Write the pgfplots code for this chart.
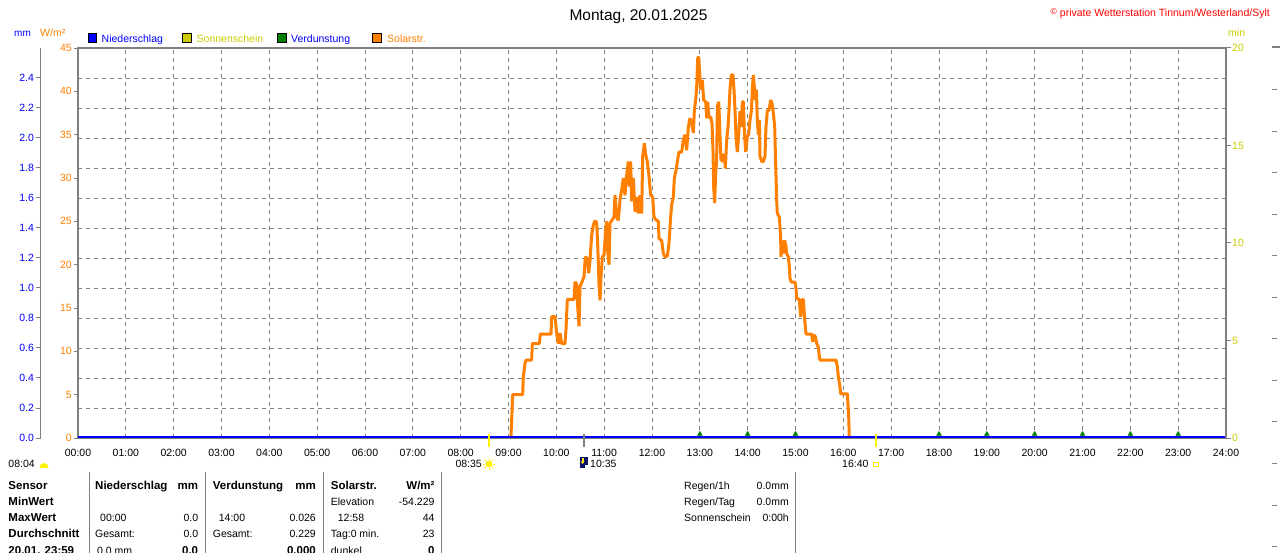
\documentclass[border=0pt]{standalone}
\usepackage{fontspec}
\setmainfont{Liberation Sans}
\usepackage{pgfplots}
\pgfplotsset{compat=1.18}
\definecolor{cblue}{RGB}{0,0,255}
\definecolor{corange}{RGB}{255,128,0}
\definecolor{cyellow}{RGB}{204,204,0}
\definecolor{cgreen}{RGB}{0,128,0}
\definecolor{cgray}{RGB}{128,128,128}
\definecolor{cred}{RGB}{255,0,0}
\definecolor{cnavy}{RGB}{10,20,110}
\definecolor{csun}{RGB}{255,240,0}
\newcommand\fr{\fontsize{10.5}{12}\selectfont}
\newcommand\fb{\fontsize{11.5}{13}\selectfont\bfseries}
\newcommand\Lt[3]{\node[anchor=base west,inner sep=0pt] at (#1,#2) {#3};}
\newcommand\Rt[3]{\node[anchor=base east,inner sep=0pt] at (#1,#2) {#3};}
\pgfplotsset{
  /pgf/number format/assume math mode=true,
  base/.style={at={(78pt,114pt)}, anchor=south west, scale only axis,
    width=1148pt, height=390pt, xmin=0, xmax=24},
}
\begin{document}
\begin{tikzpicture}
\useasboundingbox (0pt,0pt) rectangle (1280pt,552pt);
\fill[white] (0pt,0pt) rectangle (1280pt,552pt);

% grid axis
\begin{axis}[base, ymin=0, ymax=2.6,
  xtick={1,2,...,23}, ytick={0.2,0.4,0.6,0.8,1.0,1.2,1.4,1.6,1.8,2.0,2.2,2.4},
  xticklabels={}, yticklabels={}, major tick length=0pt,
  axis line style={draw=none},
  xmajorgrids, ymajorgrids,
  grid style={cgray, line width=0.8pt, dash pattern=on 4pt off 4pt}]
\end{axis}

% main axis (W/m2)
\begin{axis}[base, ymin=0, ymax=45,
  xtick={0,1,...,24},
  xticklabels={00:00,01:00,02:00,03:00,04:00,05:00,06:00,07:00,08:00,09:00,10:00,11:00,12:00,13:00,14:00,15:00,16:00,17:00,18:00,19:00,20:00,21:00,22:00,23:00,24:00},
  xtick style={draw=none},
  xticklabel style={font=\fr, anchor=base, inner sep=0pt, yshift=-14.7pt},
  ytick={0,5,...,45}, ytick pos=left,
  tick align=outside, major tick length=4pt,
  ytick style={cgray, line width=1pt},
  yticklabel style={font=\fr, text=corange, inner sep=0pt, xshift=-2pt},
  axis line style={cgray, line width=2pt}]
\addplot[corange, line width=3pt, line join=bevel] coordinates {
(9.05,0) (9.073,3.0) (9.087,5.0) (9.296,5.0) (9.31,7.1) (9.345,8.6) (9.366,9.0) (9.484,9.0) (9.498,10.9) (9.645,10.9) (9.666,12.0) (9.889,12.0) (9.902,14.0) (9.972,14.0) (10.007,12.1) (10.042,10.9) (10.077,12.1) (10.111,10.9) (10.181,10.9) (10.202,12.5) (10.230,16.0) (10.369,16.0) (10.390,18.0) (10.425,17.8) (10.446,15.2) (10.474,12.9) (10.495,17.5) (10.537,18.0) (10.578,18.6) (10.606,20.9) (10.648,20.7) (10.676,19.0) (10.704,20.5) (10.739,23.4) (10.774,24.6) (10.815,25.1) (10.843,24.8) (10.864,22.5) (10.892,17.8) (10.913,15.9) (10.934,18.6) (10.962,20.9) (10.997,21.1) (11.031,24.0) (11.052,25.0) (11.073,21.7) (11.101,20.0) (11.122,24.8) (11.171,25.2) (11.206,25.5) (11.226,28.0) (11.261,25.5) (11.296,25.1) (11.331,27.5) (11.366,28.6) (11.401,30.0) (11.436,28.0) (11.470,30.3) (11.505,31.9) (11.526,29.0) (11.554,31.9) (11.575,27.3) (11.610,30.0) (11.645,26.1) (11.679,27.8) (11.714,25.9) (11.749,28.0) (11.784,25.9) (11.805,32.5) (11.840,34.0) (11.868,32.7) (11.902,31.9) (11.937,30.2) (11.972,28.0) (12.014,27.8) (12.042,25.5) (12.077,25.2) (12.132,25.0) (12.146,23.0) (12.202,22.8) (12.237,21.3) (12.272,20.9) (12.321,21.0) (12.355,22.5) (12.390,25.5) (12.411,26.9) (12.446,27.8) (12.467,30.0) (12.502,30.9) (12.530,31.9) (12.564,33.0) (12.620,33.0) (12.655,34.4) (12.690,35.0) (12.725,33.2) (12.760,35.9) (12.794,36.9) (12.829,36.3) (12.864,35.2) (12.885,37.8) (12.913,39.0) (12.934,40.5) (12.955,43.8) (12.976,44.0) (12.997,42.1) (13.018,40.2) (13.052,41.3) (13.080,39.0) (13.122,38.8) (13.143,36.9) (13.164,38.8) (13.192,36.9) (13.226,37.1) (13.254,36.3) (13.275,33.2) (13.289,29.0) (13.310,27.1) (13.331,30.5) (13.352,32.1) (13.366,38.2) (13.394,38.8) (13.408,37.1) (13.422,34.8) (13.443,32.1) (13.477,31.9) (13.512,32.8) (13.533,31.1) (13.561,34.4) (13.589,35.9) (13.610,37.8) (13.631,40.3) (13.659,41.9) (13.693,41.9) (13.714,40.2) (13.735,37.8) (13.756,34.8) (13.784,33.0) (13.812,35.0) (13.840,37.7) (13.868,35.9) (13.889,38.8) (13.909,38.8) (13.930,35.5) (13.958,33.0) (13.993,34.8) (14.021,35.0) (14.049,36.7) (14.077,37.7) (14.098,40.2) (14.118,41.9) (14.139,40.5) (14.160,39.0) (14.181,40.2) (14.202,36.7) (14.223,35.0) (14.244,36.7) (14.258,32.5) (14.293,31.9) (14.328,31.9) (14.362,32.5) (14.383,35.9) (14.411,37.8) (14.446,37.8) (14.481,39.0) (14.509,38.6) (14.537,37.5) (14.565,35.9) (14.585,31.7) (14.606,27.5) (14.620,25.9) (14.662,25.5) (14.676,24.4) (14.690,22.8) (14.697,20.9) (14.725,22.8) (14.746,21.3) (14.774,22.8) (14.801,22.1) (14.815,21.3) (14.850,20.9) (14.871,19.8) (14.885,18.4) (14.913,18.0) (14.990,18.0) (15.010,17.3) (15.024,16.1) (15.080,16.0) (15.108,14.0) (15.129,15.9) (15.164,16.0) (15.185,14.2) (15.206,12.8) (15.220,12.0) (15.338,12.0) (15.359,11.1) (15.387,11.9) (15.415,11.7) (15.443,10.9) (15.477,10.5) (15.498,9.4) (15.512,9.0) (15.847,9.0) (15.875,8.2) (15.895,7.1) (15.930,5.9) (15.944,5.1) (16.084,5.1) (16.112,2.5) (16.125,0)
};
\addplot[cblue, line width=1.6pt] coordinates {(0,0.1) (24,0.1)};
\addplot[only marks, mark=triangle*, mark size=2.8pt, color=cgreen] coordinates {
(13,0.45) (14,0.45) (15,0.45) (18,0.45) (19,0.45) (20,0.45) (21,0.45) (22,0.45) (23,0.45)};
\end{axis}

% right axis (min)
\begin{axis}[base, ymin=0, ymax=20, axis y line*=right, axis x line=none,
  ytick={0,5,10,15,20}, tick align=outside, major tick length=5pt,
  ytick style={cgray, line width=1pt},
  yticklabel style={font=\fr, text=cyellow, inner sep=0pt, xshift=1pt},
  axis line style={cgray, line width=2pt, -}]
\end{axis}

% left mm axis
\begin{axis}[at={(40.7pt,114pt)}, anchor=south west, scale only axis,
  width=10pt, height=390pt, xmin=0, xmax=1, ymin=0, ymax=2.6,
  axis y line*=left, axis x line=none,
  ytick={0,0.2,0.4,0.6,0.8,1.0,1.2,1.4,1.6,1.8,2.0,2.2,2.4},
  tick align=outside, major tick length=5pt,
  ytick style={cgray, line width=1pt},
  yticklabel style={font=\fr, text=cblue, inner sep=0pt, xshift=-1.5pt,
    /pgf/number format/.cd, fixed, fixed zerofill, precision=1},
  axis line style={cgray, line width=1.2pt, -}]
\end{axis}

\begin{scope}[x=1pt, y=-1pt, shift={(0pt,552pt)}]
% title and header
\node[anchor=base, inner sep=0pt] at (638.5,20.5) {\fontsize{15.5}{18}\selectfont Montag, 20.01.2025};
\node[anchor=base east, inner sep=0pt, text=cred] at (1270,16.5) {\fr\raisebox{1.5pt}{\fontsize{8.5}{9}\selectfont\textcopyright}\ private Wetterstation Tinnum/Westerland/Sylt};
\node[anchor=base west, inner sep=0pt, text=cblue] at (14,37) {\fontsize{10}{12}\selectfont mm};
\node[anchor=base west, inner sep=0pt, text=corange] at (40,37) {\fr W/m²};
\node[anchor=base west, inner sep=0pt, text=cyellow] at (1228,37) {\fr min};
% legend
\filldraw[fill=cblue, draw=black, line width=0.8pt] (88,33.5) rectangle (96.5,42.5);
\node[anchor=base west, inner sep=0pt, text=cblue] at (101.5,42.5) {\fr Niederschlag};
\filldraw[fill=cyellow, draw=black, line width=0.8pt] (182.5,33.5) rectangle (191,42.5);
\node[anchor=base west, inner sep=0pt, text=cyellow] at (196.5,42.5) {\fr Sonnenschein};
\filldraw[fill=cgreen, draw=black, line width=0.8pt] (277.5,33.5) rectangle (286,42.5);
\node[anchor=base west, inner sep=0pt, text=cblue] at (291,42.5) {\fr Verdunstung};
\filldraw[fill=corange, draw=black, line width=0.8pt] (372.5,33.5) rectangle (381,42.5);
\node[anchor=base west, inner sep=0pt, text=corange] at (387,42.5) {\fr Solarstr.};
% right partial axis
\draw[cgray, line width=2pt] (1272,47.5) -- (1280,47.5);
\foreach \yy in {90,131.5,173,214.5,256,297.5,339,380.5,422,463.5,505,546.5}
  \draw[cgray, line width=1pt] (1272,\yy) -- (1277,\yy);
% markers below axis
\draw[yellow, line width=2pt] (488.6,434) -- (488.6,446.5);
\draw[yellow, line width=2pt] (875.5,434) -- (875.5,446.5);
\draw[cgray, line width=2.5pt] (583.8,434) -- (583.8,446.5);
% sub labels
\Lt{8.3}{467.3}{\fr 08:04}
\begin{scope}
\clip (38,467.5) rectangle (50,459);
\fill[csun] (44,467.5) circle[radius=4.5];
\end{scope}
\Rt{482}{467.3}{\fr 08:35}
\foreach \a in {0,45,...,315} \draw[csun!70!yellow, line width=0.8pt] (489,464)++(\a:3.8) -- ++(\a:2.2);
\fill[csun] (489,464) circle[radius=3.3];
\fill[cnavy] (579.5,457) rectangle (588,468);
\fill[yellow] (581.5,458) rectangle (583.5,461.5);
\fill[yellow] (580.5,461.5) -- (584.5,461.5) -- (582.5,464) -- cycle;
\fill[white] (585,465) rectangle (588,468);
\Lt{590}{467.3}{\fr 10:35}
\Lt{842}{467.3}{\fr 16:40}
\draw[yellow, line width=0.9pt] (873.8,462.3) rectangle (878,466.8);
% table separators
\foreach \xx in {89,205.7,323.3,441,795.5}
  \draw[cgray, line width=1pt] (\xx,472) -- (\xx,553);
% table
\Lt{8.3}{489.3}{\fb Sensor}
\Lt{8.3}{505}{\fb MinWert}
\Lt{8.3}{521}{\fb MaxWert}
\Lt{8.3}{537}{\fb Durchschnitt}
\Lt{8.3}{554.5}{\fb 20.01. 23:59}
\Lt{95}{489.3}{\fb Niederschlag}
\Rt{198.3}{489.3}{\fb mm}
\Lt{100}{521}{\fr 00:00}
\Rt{198.3}{521}{\fr 0.0}
\Lt{95}{537}{\fr Gesamt:}
\Rt{198.3}{537}{\fr 0.0}
\Lt{97}{554.5}{\fr 0.0 mm}
\Rt{198.3}{554.5}{\fb 0.0}
\Lt{212.7}{489.3}{\fb Verdunstung}
\Rt{316}{489.3}{\fb mm}
\Lt{218.7}{521}{\fr 14:00}
\Rt{316}{521}{\fr 0.026}
\Lt{212.7}{537}{\fr Gesamt:}
\Rt{316}{537}{\fr 0.229}
\Rt{316}{554.5}{\fb 0.000}
\Lt{330.7}{489.3}{\fb Solarstr.}
\Rt{434.7}{489.3}{\fb W/m²}
\Lt{330.7}{505}{\fr Elevation}
\Rt{434.7}{505}{\fr -54.229}
\Lt{337.7}{521}{\fr 12:58}
\Rt{434.7}{521}{\fr 44}
\Lt{330.7}{537}{\fr Tag:0 min.}
\Rt{434.7}{537}{\fr 23}
\Lt{330.7}{554.5}{\fr dunkel}
\Rt{434.7}{554.5}{\fb 0}
\Lt{684}{489.3}{\fr Regen/1h}
\Rt{789}{489.3}{\fr 0.0mm}
\Lt{684}{505}{\fr Regen/Tag}
\Rt{789}{505}{\fr 0.0mm}
\Lt{684}{521}{\fr Sonnenschein}
\Rt{789}{521}{\fr 0:00h}
\end{scope}
\end{tikzpicture}
\end{document}
